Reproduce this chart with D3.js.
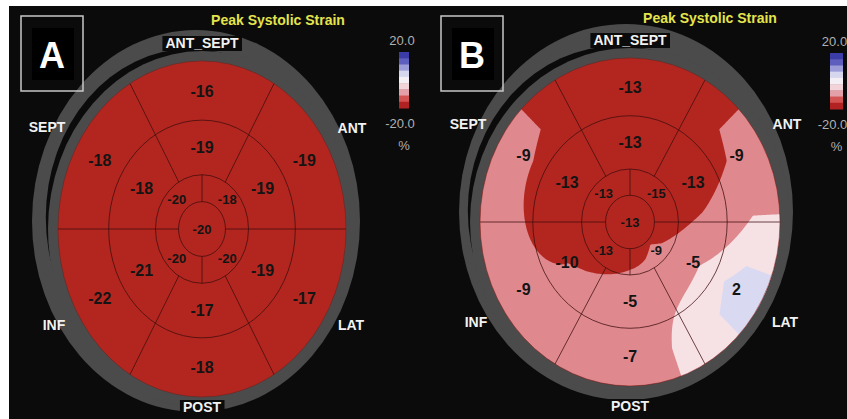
<!DOCTYPE html>
<html>
<head>
<meta charset="utf-8">
<script src="https://cdnjs.cloudflare.com/ajax/libs/d3/7.8.5/d3.min.js"></script>
<style>
  html, body { margin: 0; padding: 0; background: #fff; }
  svg { display: block; }
  text { font-family: "Liberation Sans", Arial, sans-serif; }
</style>
</head>
<body>
<svg id="chart"></svg>
<script>
//segment order for basal and mid rings (clockwise from the top)
const walls = ['ANT_SEPT', 'ANT', 'LAT', 'POST', 'INF', 'SEPT']
const wallAngles = [90, 30, -30, -90, -150, 150]
//apical ring has 4 segments: SEPT, ANT, LAT, INF
const apicalAngles = [135, 45, -45, -135]

//panel A values
const basalA = [-16, -19, -17, -18, -22, -18]
const midA = [-19, -19, -19, -17, -21, -18]
const apicalA = [-20, -18, -20, -20]
const apexA = -20

//panel B values
const basalB = [-13, -9, 2, -7, -9, -9]
const midB = [-13, -13, -5, -5, -10, -13]
const apicalB = [-13, -15, -9, -13]
const apexB = -13

//colour bands of the strain map
const fieldThresholds = [-9.9, -4, 0]
const fieldColors = ['#b3261f', '#df898e', '#f6e1e5', '#d9d9f2']

//legend
const legendLabels = ['20.0', '-20.0', '%']
const legendColors = ['#3c3ca8', '#5e5ebe', '#9c9cd8', '#d6d6ef', '#f3eff4', '#f1d3d9', '#e3a0a8', '#d35252', '#b22222']

//ring radii as a fraction of the outer ellipse
const ringR = { apex: 0.163, apical: 0.323, mid: 0.648, basal: 1 }
const labelR = { basal: 0.82, mid: 0.485, apical: 0.248 }

const W = 847, H = 419

const svg = d3.select('#chart')
  .attr('width', W)
  .attr('height', H)

svg.append('rect').attr('width', W).attr('height', H).attr('fill', '#fff')
svg.append('rect').attr('x', 9).attr('y', 6).attr('width', W - 9).attr('height', H - 6).attr('fill', '#0b0b0b')

const panels = [
  {
    id: 'A', basal: basalA, mid: midA, apical: apicalA, apex: apexA,
    cx: 202, cy: 229, rx: 144, ry: 168,
    shell: { cx: 196, cy: 221, rx: 164, ry: 191 },
    box: { x: 21, y: 16, w: 62, h: 75 },
    title: { x: 278, y: 25 },
    legend: { x: 399, y: 52, w: 10, h: 56 },
    names: { SEPT: [-155, -97], ANT: [150, -96], INF: [-148, 101], LAT: [149, 101], ANT_SEPT: [0, -181], POST: [0, 183] }
  },
  {
    id: 'B', basal: basalB, mid: midB, apical: apicalB, apex: apexB,
    cx: 630, cy: 222, rx: 150, ry: 164,
    shell: { cx: 626, cy: 212, rx: 167, ry: 188 },
    box: { x: 441, y: 16, w: 62, h: 75 },
    title: { x: 710, y: 23 },
    legend: { x: 830, y: 53, w: 13, h: 56 },
    names: { SEPT: [-162, -93], ANT: [157, -93], INF: [-154, 105], LAT: [155, 105], ANT_SEPT: [0, -177], POST: [0, 189] }
  }
]

const color = d3.scaleThreshold().domain(fieldThresholds).range(fieldColors)
const rad = (a) => a * Math.PI / 180

//value of one ring at angle a (degrees), linear between segment centres
function ringValue(vals, angles, a) {
  const s = d3.sort(vals.map((v, i) => ({ a: angles[i], v })), d => d.a)
  s.push({ a: s[0].a + 360, v: s[0].v })
  let t = a
  while (t < s[0].a) t += 360
  while (t >= s[0].a + 360) t -= 360
  for (let i = 0; i < s.length - 1; i++) {
    if (t >= s[i].a && t <= s[i + 1].a) {
      return d3.interpolateNumber(s[i].v, s[i + 1].v)((t - s[i].a) / (s[i + 1].a - s[i].a))
    }
  }
  return s[0].v
}

panels.forEach(drawPanel)

function drawPanel(p) {
  const g = svg.append('g')

  //scales from normalized bullseye coords to pixels
  const xScale = d3.scaleLinear().domain([-1, 1]).range([p.cx - p.rx, p.cx + p.rx])
  const yScale = d3.scaleLinear().domain([-1, 1]).range([p.cy + p.ry, p.cy - p.ry])
  const pos = (r, a) => [xScale(r * Math.cos(rad(a))), yScale(r * Math.sin(rad(a)))]

  //grey shell with the black crescent at the upper left
  g.append('ellipse').attr('cx', p.shell.cx).attr('cy', p.shell.cy)
    .attr('rx', p.shell.rx).attr('ry', p.shell.ry).attr('fill', '#4b4b4b')
  g.append('ellipse').attr('cx', p.cx - 11.6).attr('cy', p.cy - 11.6)
    .attr('rx', p.rx + 0.6).attr('ry', p.ry + 0.6).attr('fill', '#0b0b0b')
  g.append('ellipse').attr('cx', p.cx).attr('cy', p.cy)
    .attr('rx', p.rx + 10).attr('ry', p.ry + 10).attr('fill', '#4b4b4b')

  //strain map: angular blend inside each ring, radial blend between rings
  const radial = d3.scaleLinear().domain([0, labelR.apical, labelR.mid, labelR.basal]).clamp(true)
  const n = 200
  const values = new Float64Array(n * n)
  for (let j = 0; j < n; j++) {
    const w = 1 - 2 * (j + 0.5) / n
    for (let i = 0; i < n; i++) {
      const u = -1 + 2 * (i + 0.5) / n
      const r = Math.hypot(u, w)
      const a = Math.atan2(w, u) * 180 / Math.PI
      radial.range([p.apex,
        ringValue(p.apical, apicalAngles, a),
        ringValue(p.mid, wallAngles, a),
        ringValue(p.basal, wallAngles, a)])
      values[j * n + i] = radial(r)
    }
  }

  const clipId = 'clip' + p.id
  g.append('clipPath').attr('id', clipId)
    .append('ellipse').attr('cx', p.cx).attr('cy', p.cy).attr('rx', p.rx).attr('ry', p.ry)

  const gx = d3.scaleLinear().domain([0, n]).range([p.cx - p.rx, p.cx + p.rx])
  const gy = d3.scaleLinear().domain([0, n]).range([p.cy - p.ry, p.cy + p.ry])
  const path = d3.geoPath(d3.geoTransform({
    point: function (x, y) { this.stream.point(gx(x), gy(y)) }
  }))

  const map = g.append('g').attr('clip-path', `url(#${clipId})`)
  map.append('ellipse').attr('cx', p.cx).attr('cy', p.cy).attr('rx', p.rx).attr('ry', p.ry)
    .attr('fill', fieldColors[0])
  map.selectAll('path')
    .data(d3.contours().size([n, n]).thresholds(fieldThresholds)(values))
    .join('path')
    .attr('d', path)
    .attr('fill', d => color(d.value))

  //rings and segment lines
  const lineColor = '#3c0c0c'
  ;[ringR.mid, ringR.apical, ringR.apex].forEach(r => {
    g.append('ellipse').attr('cx', p.cx).attr('cy', p.cy)
      .attr('rx', p.rx * r).attr('ry', p.ry * r)
      .attr('fill', 'none').attr('stroke', lineColor).attr('stroke-opacity', 0.75).attr('stroke-width', 1)
  })
  const segs = []
  ;[60, 120, -60, -120].forEach(a => segs.push([pos(ringR.apical, a), pos(ringR.basal, a)]))
  ;[0, 180].forEach(a => segs.push([pos(ringR.apex, a), pos(ringR.basal, a)]))
  ;[90, -90].forEach(a => segs.push([pos(ringR.apex, a), pos(ringR.apical, a)]))
  g.selectAll('line.seg')
    .data(segs)
    .join('line')
    .attr('class', 'seg')
    .attr('x1', d => d[0][0]).attr('y1', d => d[0][1])
    .attr('x2', d => d[1][0]).attr('y2', d => d[1][1])
    .attr('stroke', lineColor).attr('stroke-opacity', 0.75).attr('stroke-width', 1)
  g.append('ellipse').attr('cx', p.cx).attr('cy', p.cy).attr('rx', p.rx).attr('ry', p.ry)
    .attr('fill', 'none').attr('stroke', '#7a1a16').attr('stroke-opacity', 0.5)

  //segment values
  const labels = []
  p.basal.forEach((v, i) => labels.push({ xy: pos(labelR.basal, wallAngles[i]), v, size: 16 }))
  p.mid.forEach((v, i) => labels.push({ xy: pos(labelR.mid, wallAngles[i]), v, size: 16 }))
  p.apical.forEach((v, i) => labels.push({ xy: pos(labelR.apical, apicalAngles[i]), v, size: 13 }))
  labels.push({ xy: pos(0, 0), v: p.apex, size: 13 })
  g.selectAll('text.val')
    .data(labels)
    .join('text')
    .attr('class', 'val')
    .attr('x', d => d.xy[0])
    .attr('y', d => d.xy[1])
    .attr('dy', '0.36em')
    .attr('text-anchor', 'middle')
    .attr('font-size', d => d.size)
    .attr('font-weight', 'bold')
    .attr('fill', '#141414')
    .text(d => d.v)

  //wall names
  Object.entries(p.names).forEach(([name, off]) => {
    const t = g.append('text')
      .attr('x', p.cx + off[0]).attr('y', p.cy + off[1])
      .attr('text-anchor', 'middle')
      .attr('font-size', 14).attr('font-weight', 'bold')
      .attr('fill', '#f2f2f2')
      .text(name)
    if (name === 'ANT_SEPT' || name === 'POST') {
      const b = t.node().getBBox()
      g.insert('rect', () => t.node())
        .attr('x', b.x - 3).attr('y', b.y + 1).attr('width', b.width + 6).attr('height', b.height - 1)
        .attr('fill', '#0b0b0b')
    }
  })

  //title
  g.append('text')
    .attr('x', p.title.x).attr('y', p.title.y)
    .attr('text-anchor', 'middle')
    .attr('font-size', 14).attr('font-weight', 'bold')
    .attr('fill', '#e4e44c')
    .text('Peak Systolic Strain')

  //panel letter box
  g.append('rect')
    .attr('x', p.box.x).attr('y', p.box.y).attr('width', p.box.w).attr('height', p.box.h)
    .attr('fill', 'none').attr('stroke', '#c8c8c8').attr('stroke-width', 1.5)
  g.append('rect')
    .attr('x', p.box.x + 11).attr('y', p.box.y + 12).attr('width', 42).attr('height', 52)
    .attr('fill', '#000')
  g.append('text')
    .attr('x', p.box.x + p.box.w / 2).attr('y', p.box.y + 52)
    .attr('text-anchor', 'middle')
    .attr('font-size', 36).attr('font-weight', 'bold')
    .attr('fill', '#fff')
    .text(p.id)

  //colour legend
  const band = d3.scaleBand()
    .domain(d3.range(legendColors.length))
    .range([p.legend.y, p.legend.y + p.legend.h])
  g.selectAll('rect.leg')
    .data(legendColors)
    .join('rect')
    .attr('class', 'leg')
    .attr('x', p.legend.x)
    .attr('y', (d, i) => band(i))
    .attr('width', p.legend.w)
    .attr('height', band.bandwidth() + 0.5)
    .attr('fill', d => d)
  const lx = p.legend.x + p.legend.w / 2
  const legPos = [[-2, p.legend.y - 7], [-4, p.legend.y + p.legend.h + 20], [0, p.legend.y + p.legend.h + 42]]
  g.selectAll('text.leg')
    .data(legendLabels)
    .join('text')
    .attr('class', 'leg')
    .attr('x', (d, i) => lx + legPos[i][0])
    .attr('y', (d, i) => legPos[i][1])
    .attr('text-anchor', 'middle')
    .attr('font-size', 13)
    .attr('fill', '#b0b0b0')
    .text(d => d)
}
</script>
</body>
</html>
